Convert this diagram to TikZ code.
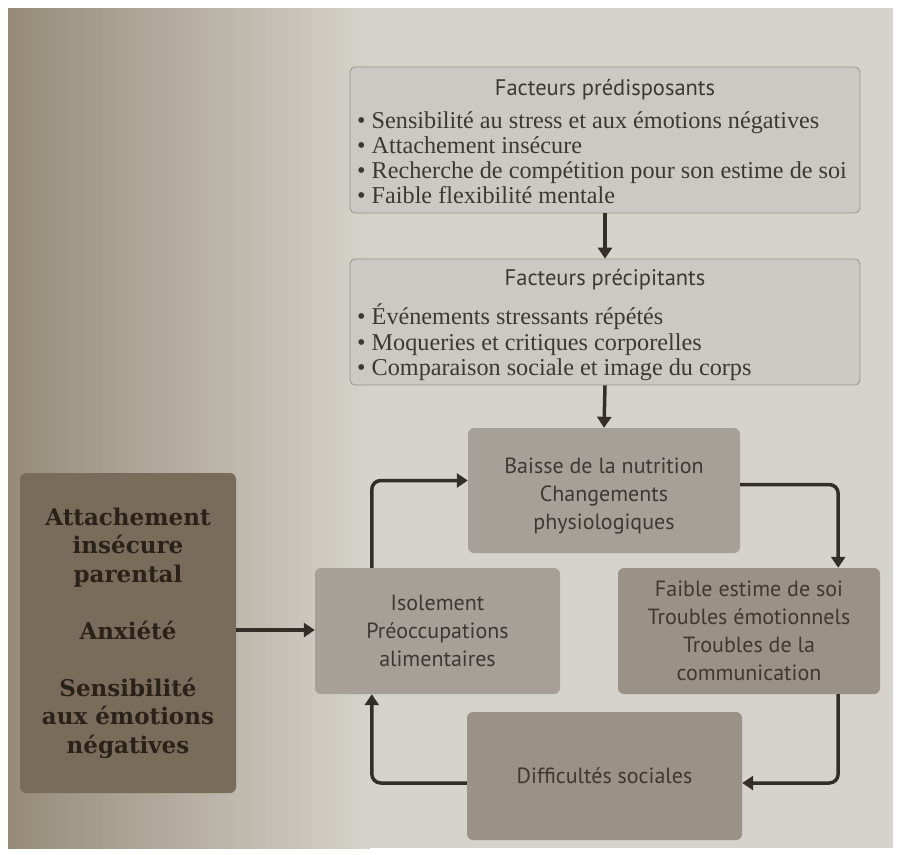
\documentclass[tikz,border=0pt]{standalone}
\usepackage{fontspec}
\setmainfont{Liberation Serif}
\newfontfamily\sansf{PT Sans}
\newfontfamily\heavyf{DejaVu Serif}
\usetikzlibrary{arrows.meta}
\definecolor{pagebg}{RGB}{214,211,204}
\definecolor{pageshadow}{RGB}{150,139,120}
\definecolor{lightbox}{RGB}{204,201,197}
\definecolor{lightedge}{RGB}{150,147,142}
\definecolor{midbox}{RGB}{166,160,152}
\definecolor{midboxdark}{RGB}{154,146,134}
\definecolor{darkbox}{RGB}{122,108,90}
\definecolor{inkc}{RGB}{62,56,50}
\definecolor{heavyink}{RGB}{42,33,24}
\definecolor{arrowc}{RGB}{52,46,40}
\tikzset{
  topbox/.style={draw=lightedge, fill=lightbox, line width=0.8pt, rounded corners=5pt, inner sep=0pt},
  cycbox/.style={fill=midbox, rounded corners=6pt, inner sep=0pt, align=center,
    text=inkc, font=\sansf\fontsize{22}{28}\selectfont},
  leftbox/.style={fill=darkbox, rounded corners=6pt, inner sep=0pt, align=center,
    text=heavyink, font=\heavyf\bfseries\fontsize{23}{28.5}\selectfont},
  titletext/.style={font=\sansf\fontsize{22.5}{25}\selectfont, text=inkc, inner sep=0pt},
  bullettext/.style={font=\fontsize{24.2}{25.2}\selectfont, text=inkc, align=left, inner sep=0pt},
  conn/.style={draw=arrowc, line width=3.5pt, -{Triangle[length=11pt,width=14pt]}},
  elbow/.style={conn, rounded corners=9pt}
}
\begin{document}
\begin{tikzpicture}[x=1pt,y=-1pt]
\useasboundingbox (0,0) rectangle (899,854);
\fill[white] (0,0) rectangle (899,854);
\shade[left color=pageshadow, right color=pagebg] (8,8) rectangle (370,848);
\fill[pagebg] (369,8) rectangle (893,848);

% top boxes
\node[topbox, minimum width=510, minimum height=146] (pred) at (605,140) {};
\node[titletext, anchor=base] (predt) at (605,95.5) {Facteurs prédisposants};
\node[bullettext, anchor=north west] (predl) at (357,111)
  {•~Sensibilité au stress et aux émotions négatives\\
   •~Attachement insécure\\
   •~Recherche de compétition pour son estime de soi\\
   •~Faible flexibilité mentale};

\node[topbox, minimum width=510, minimum height=126] (prec) at (605,322) {};
\node[titletext, anchor=base] (prect) at (605,285.5) {Facteurs précipitants};
\node[bullettext, anchor=north west] (precl) at (357,304)
  {•~Événements stressants répétés\\
   •~Moqueries et critiques corporelles\\
   •~Comparaison sociale et image du corps};

% cycle
\node[cycbox, minimum width=272, minimum height=125] (baisse) at (604,490.5)
  {\rule{0pt}{26pt}Baisse de la nutrition\\Changements\\physiologiques};
\node[cycbox, minimum width=245, minimum height=126] (isol) at (437.5,631)
  {Isolement\\Préoccupations\\alimentaires};
\node[cycbox, fill=midboxdark, minimum width=262, minimum height=126] (faible) at (749,631)
  {Faible estime de soi\\Troubles émotionnels\\Troubles de la\\communication};
\node[cycbox, fill=midboxdark, minimum width=275, minimum height=128] (diff) at (604.5,776)
  {Difficultés sociales};

% left box
\node[leftbox, minimum width=216, minimum height=320] (left) at (128,633)
  {Attachement\\insécure\\parental\\[28.5pt]Anxiété\\[28.5pt]Sensibilité\\aux émotions\\négatives};

% connectors
\draw[conn] (pred.south) -- (prec.north);
\draw[conn] (prec.south) -- (baisse.north);
\draw[conn] ([yshift=3pt]left.east) -- ([yshift=3pt]left.east -| isol.west);
\draw[elbow] ([xshift=57pt]isol.north west) |- ([yshift=10pt]baisse.west);
\draw[elbow] ([yshift=6pt]baisse.east) -| ([xshift=-42pt]faible.north east);
\draw[elbow] ([xshift=-42pt]faible.south east) |- ([yshift=-7pt]diff.east);
\draw[elbow] ([yshift=-7pt]diff.west) -| ([xshift=57pt]isol.south west);
\end{tikzpicture}
\end{document}
